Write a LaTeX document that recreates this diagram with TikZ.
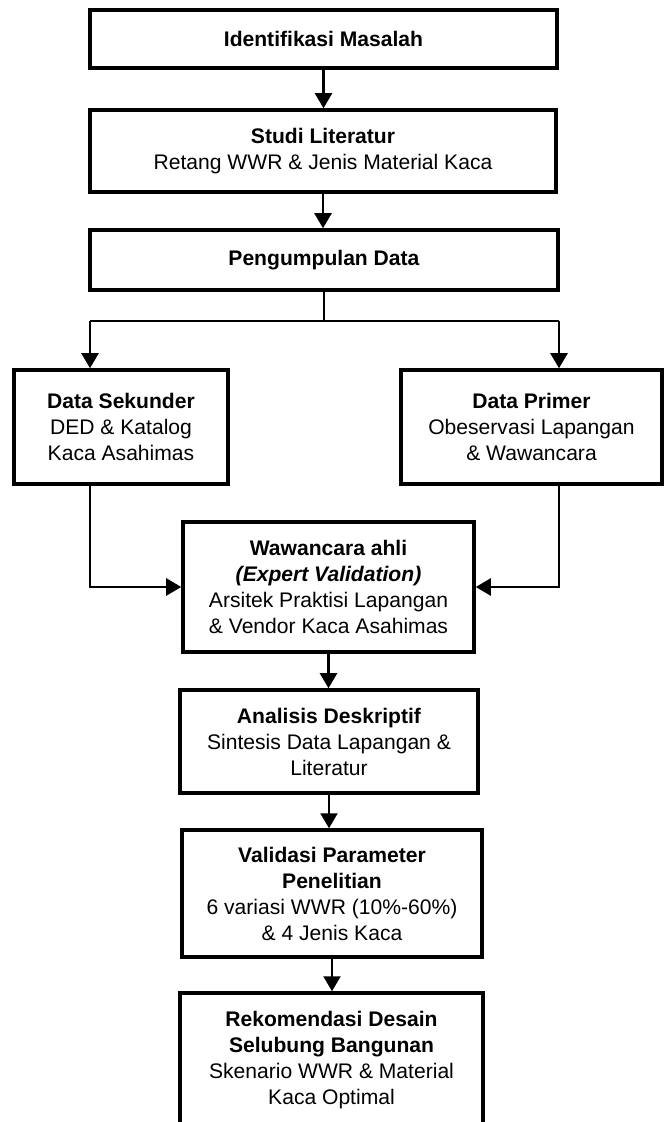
\documentclass[tikz,border=0pt]{standalone}
\usepackage{fontspec}
\setmainfont{Liberation Sans}
\usetikzlibrary{arrows.meta}

\begin{document}
\begin{tikzpicture}[>={Triangle[length=0.3cm,width=0.34cm]},
  flowbox/.style={draw, line width=2pt, fill=white, align=center,
    inner sep=0pt, font=\fontsize{12}{14.8}\selectfont},
  flowline/.style={line width=1.3pt}]

% ================================================================
% Page frame (664 x 1122 px, 1 px = 0.02 cm)
% ================================================================
\useasboundingbox (0, 0) rectangle (13.28, -22.44);

% ================================================================
% Main column
% ================================================================
\node[flowbox, minimum width=9.34cm, minimum height=1.16cm] (ident) at (6.47, -0.78)
  {\textbf{Identifikasi Masalah}};
\node[flowbox, minimum width=9.32cm, minimum height=1.64cm] (studi) at (6.46, -3.02)
  {\textbf{Studi Literatur}\\Retang WWR \& Jenis Material Kaca};
\node[flowbox, minimum width=9.36cm, minimum height=1.2cm] (kumpul) at (6.48, -5.2)
  {\textbf{Pengumpulan Data}};

% ================================================================
% Two data branches
% ================================================================
\node[flowbox, minimum width=4.28cm, minimum height=2.28cm] (sekunder) at (2.42, -8.54)
  {\textbf{Data Sekunder}\\DED \& Katalog\\Kaca Asahimas};
\node[flowbox, minimum width=5.22cm, minimum height=2.28cm] (primer) at (10.63, -8.54)
  {\textbf{Data Primer}\\Obeservasi Lapangan\\\& Wawancara};

% ================================================================
% Lower column
% ================================================================
\node[flowbox, minimum width=5.82cm, minimum height=2.6cm] (ahli) at (6.57, -11.74)
  {\textbf{Wawancara ahli}\\\textbf{\textit{(Expert Validation)}}\\Arsitek Praktisi Lapangan\\\& Vendor Kaca Asahimas};
\node[flowbox, minimum width=5.96cm, minimum height=2.06cm] (analisis) at (6.58, -14.83)
  {\textbf{Analisis Deskriptif}\\Sintesis Data Lapangan \&\\Literatur};
\node[flowbox, minimum width=6.0cm, minimum height=2.54cm] (validasi) at (6.64, -17.87)
  {\textbf{Validasi Parameter}\\\textbf{Penelitian}\\6 variasi WWR (10\%-60\%)\\\& 4 Jenis Kaca};
\node[flowbox, minimum width=6.06cm, minimum height=2.68cm] (rekom) at (6.63, -21.2)
  {\textbf{Rekomendasi Desain}\\\textbf{Selubung Bangunan}\\Skenario WWR \& Material\\Kaca Optimal};

% ================================================================
% Connectors
% ================================================================
\coordinate (splitL) at (1.8, -6.42);
\coordinate (splitR) at (11.18, -6.42);

\draw[flowline, ->] (ident.south) -- (ident.south |- studi.north);
\draw[flowline, ->] (studi.south) -- (studi.south |- kumpul.north);

% split to both data boxes
\draw[flowline] (kumpul.south) -- (kumpul.south |- splitL);
\draw[flowline] (splitL) -- (splitR);
\draw[flowline, ->] (splitL) -- (splitL |- sekunder.north);
\draw[flowline, ->] (splitR) -- (splitR |- primer.north);

% merge into expert interview
\draw[flowline, ->] (sekunder.south -| splitL) |- (ahli.west);
\draw[flowline, ->] (primer.south -| splitR) |- (ahli.east);

\draw[flowline, ->] (ahli.south) -- (ahli.south |- analisis.north);
\draw[flowline, ->] (analisis.south) -- (analisis.south |- validasi.north);
\draw[flowline, ->] (validasi.south) -- (validasi.south |- rekom.north);

\end{tikzpicture}
\end{document}
